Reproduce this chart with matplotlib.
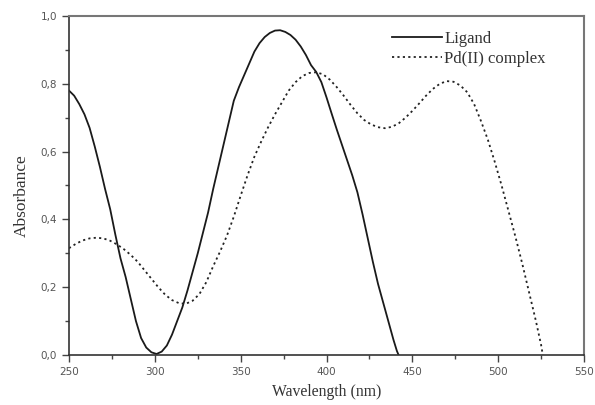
import matplotlib
matplotlib.use("Agg")
import matplotlib.pyplot as plt
from matplotlib.ticker import MultipleLocator, FuncFormatter

ligand_x = [250, 253, 256, 259, 262, 265, 268, 271, 274, 277, 280, 283, 286, 289, 292, 295, 298,
            301, 304, 307, 310, 313, 316, 319, 322, 325, 328, 331, 334, 337, 340, 343, 346, 349,
            352, 355, 358, 361, 364, 367, 370, 373, 376, 379, 382, 385, 388, 391, 394, 397, 400,
            403, 406, 409, 412, 415, 418, 421, 424, 427, 430, 433, 436, 439, 441, 442]
ligand_y = [0.78, 0.765, 0.74, 0.71, 0.67, 0.615, 0.555, 0.49, 0.43, 0.355, 0.285, 0.23, 0.165,
            0.1, 0.05, 0.022, 0.008, 0.003, 0.01, 0.028, 0.06, 0.1, 0.14, 0.19, 0.245, 0.3, 0.36,
            0.42, 0.49, 0.555, 0.62, 0.685, 0.75, 0.79, 0.825, 0.86, 0.895, 0.92, 0.938, 0.95,
            0.957, 0.958, 0.953, 0.944, 0.93, 0.91, 0.885, 0.855, 0.835, 0.805, 0.76, 0.712,
            0.665, 0.62, 0.575, 0.53, 0.48, 0.415, 0.345, 0.275, 0.21, 0.155, 0.1, 0.045, 0.012, 0.0]

pd_x = [250, 254, 258, 262, 266, 270, 274, 278, 282, 286, 290, 294, 298, 302, 306, 310, 314, 318,
        322, 326, 330, 334, 338, 342, 346, 350, 354, 358, 362, 366, 370, 374, 378, 382, 386, 390,
        394, 398, 402, 406, 410, 414, 418, 422, 426, 430, 434, 438, 442, 446, 450, 454, 458, 462,
        466, 470, 474, 478, 482, 486, 490, 494, 498, 502, 506, 510, 514, 518, 522, 525, 526]
pd_y = [0.315, 0.328, 0.338, 0.344, 0.346, 0.344, 0.337, 0.326, 0.312, 0.295, 0.275, 0.25, 0.225,
        0.2, 0.178, 0.162, 0.153, 0.151, 0.16, 0.18, 0.215, 0.262, 0.305, 0.352, 0.408, 0.47,
        0.53, 0.585, 0.63, 0.672, 0.71, 0.745, 0.78, 0.805, 0.823, 0.832, 0.834, 0.828, 0.812,
        0.79, 0.765, 0.738, 0.713, 0.693, 0.68, 0.672, 0.669, 0.673, 0.683, 0.7, 0.72, 0.742,
        0.765, 0.785, 0.8, 0.808, 0.806, 0.795, 0.775, 0.74, 0.69, 0.635, 0.57, 0.5, 0.425,
        0.35, 0.27, 0.185, 0.1, 0.03, 0.0]

series_labels = ["Ligand", "Pd(II) complex"]
x_label = "Wavelength (nm)"
y_label = "Absorbance"

fig = plt.figure(figsize=(5.95, 4.05), dpi=100)
ax = fig.add_axes([69/595, 50/405, (584-69)/595, (355-16)/405])

ax.plot(ligand_x, ligand_y, color="#1a1a1a", lw=1.3, ls="-", label=series_labels[0])
ax.plot(pd_x, pd_y, color="#222222", lw=1.3, ls=(0, (1.2, 1.8)), label=series_labels[1])

ax.set_xlim(250, 550)
ax.set_ylim(0, 1.0)
ax.xaxis.set_major_locator(MultipleLocator(50))
ax.xaxis.set_minor_locator(MultipleLocator(25))
ax.yaxis.set_major_locator(MultipleLocator(0.2))
ax.yaxis.set_minor_locator(MultipleLocator(0.1))
ax.yaxis.set_major_formatter(FuncFormatter(lambda v, p: f"{v:.1f}".replace(".", ",")))
ax.tick_params(which="major", direction="out", length=5, width=1, color="#444444",
               labelsize=7.5, labelcolor="#555555")
ax.tick_params(which="minor", direction="out", length=3, width=1, color="#444444")
for lab in ax.get_xticklabels() + ax.get_yticklabels():
    lab.set_family("DejaVu Sans")

for s in ["left", "bottom"]:
    ax.spines[s].set_color("#333333")
    ax.spines[s].set_linewidth(1.2)
for s in ["top", "right"]:
    ax.spines[s].set_color("#777777")
    ax.spines[s].set_linewidth(1.5)

ax.set_xlabel(x_label, family="Liberation Serif", fontsize=11.3, color="#333333", labelpad=5)
ax.set_ylabel(y_label, family="Liberation Serif", fontsize=12.5, color="#333333")
ax.yaxis.set_label_coords(-0.077, 0.47)

leg = ax.legend(loc="upper left", bbox_to_anchor=((392-69)/515, (355-31)/339), frameon=False,
                prop={"family": "Liberation Serif", "size": 12}, handlelength=3.0,
                handletextpad=0.15, labelspacing=0.25, borderaxespad=0, borderpad=0)
for t in leg.get_texts():
    t.set_color("#333333")

fig.savefig("out.png", dpi=100)
